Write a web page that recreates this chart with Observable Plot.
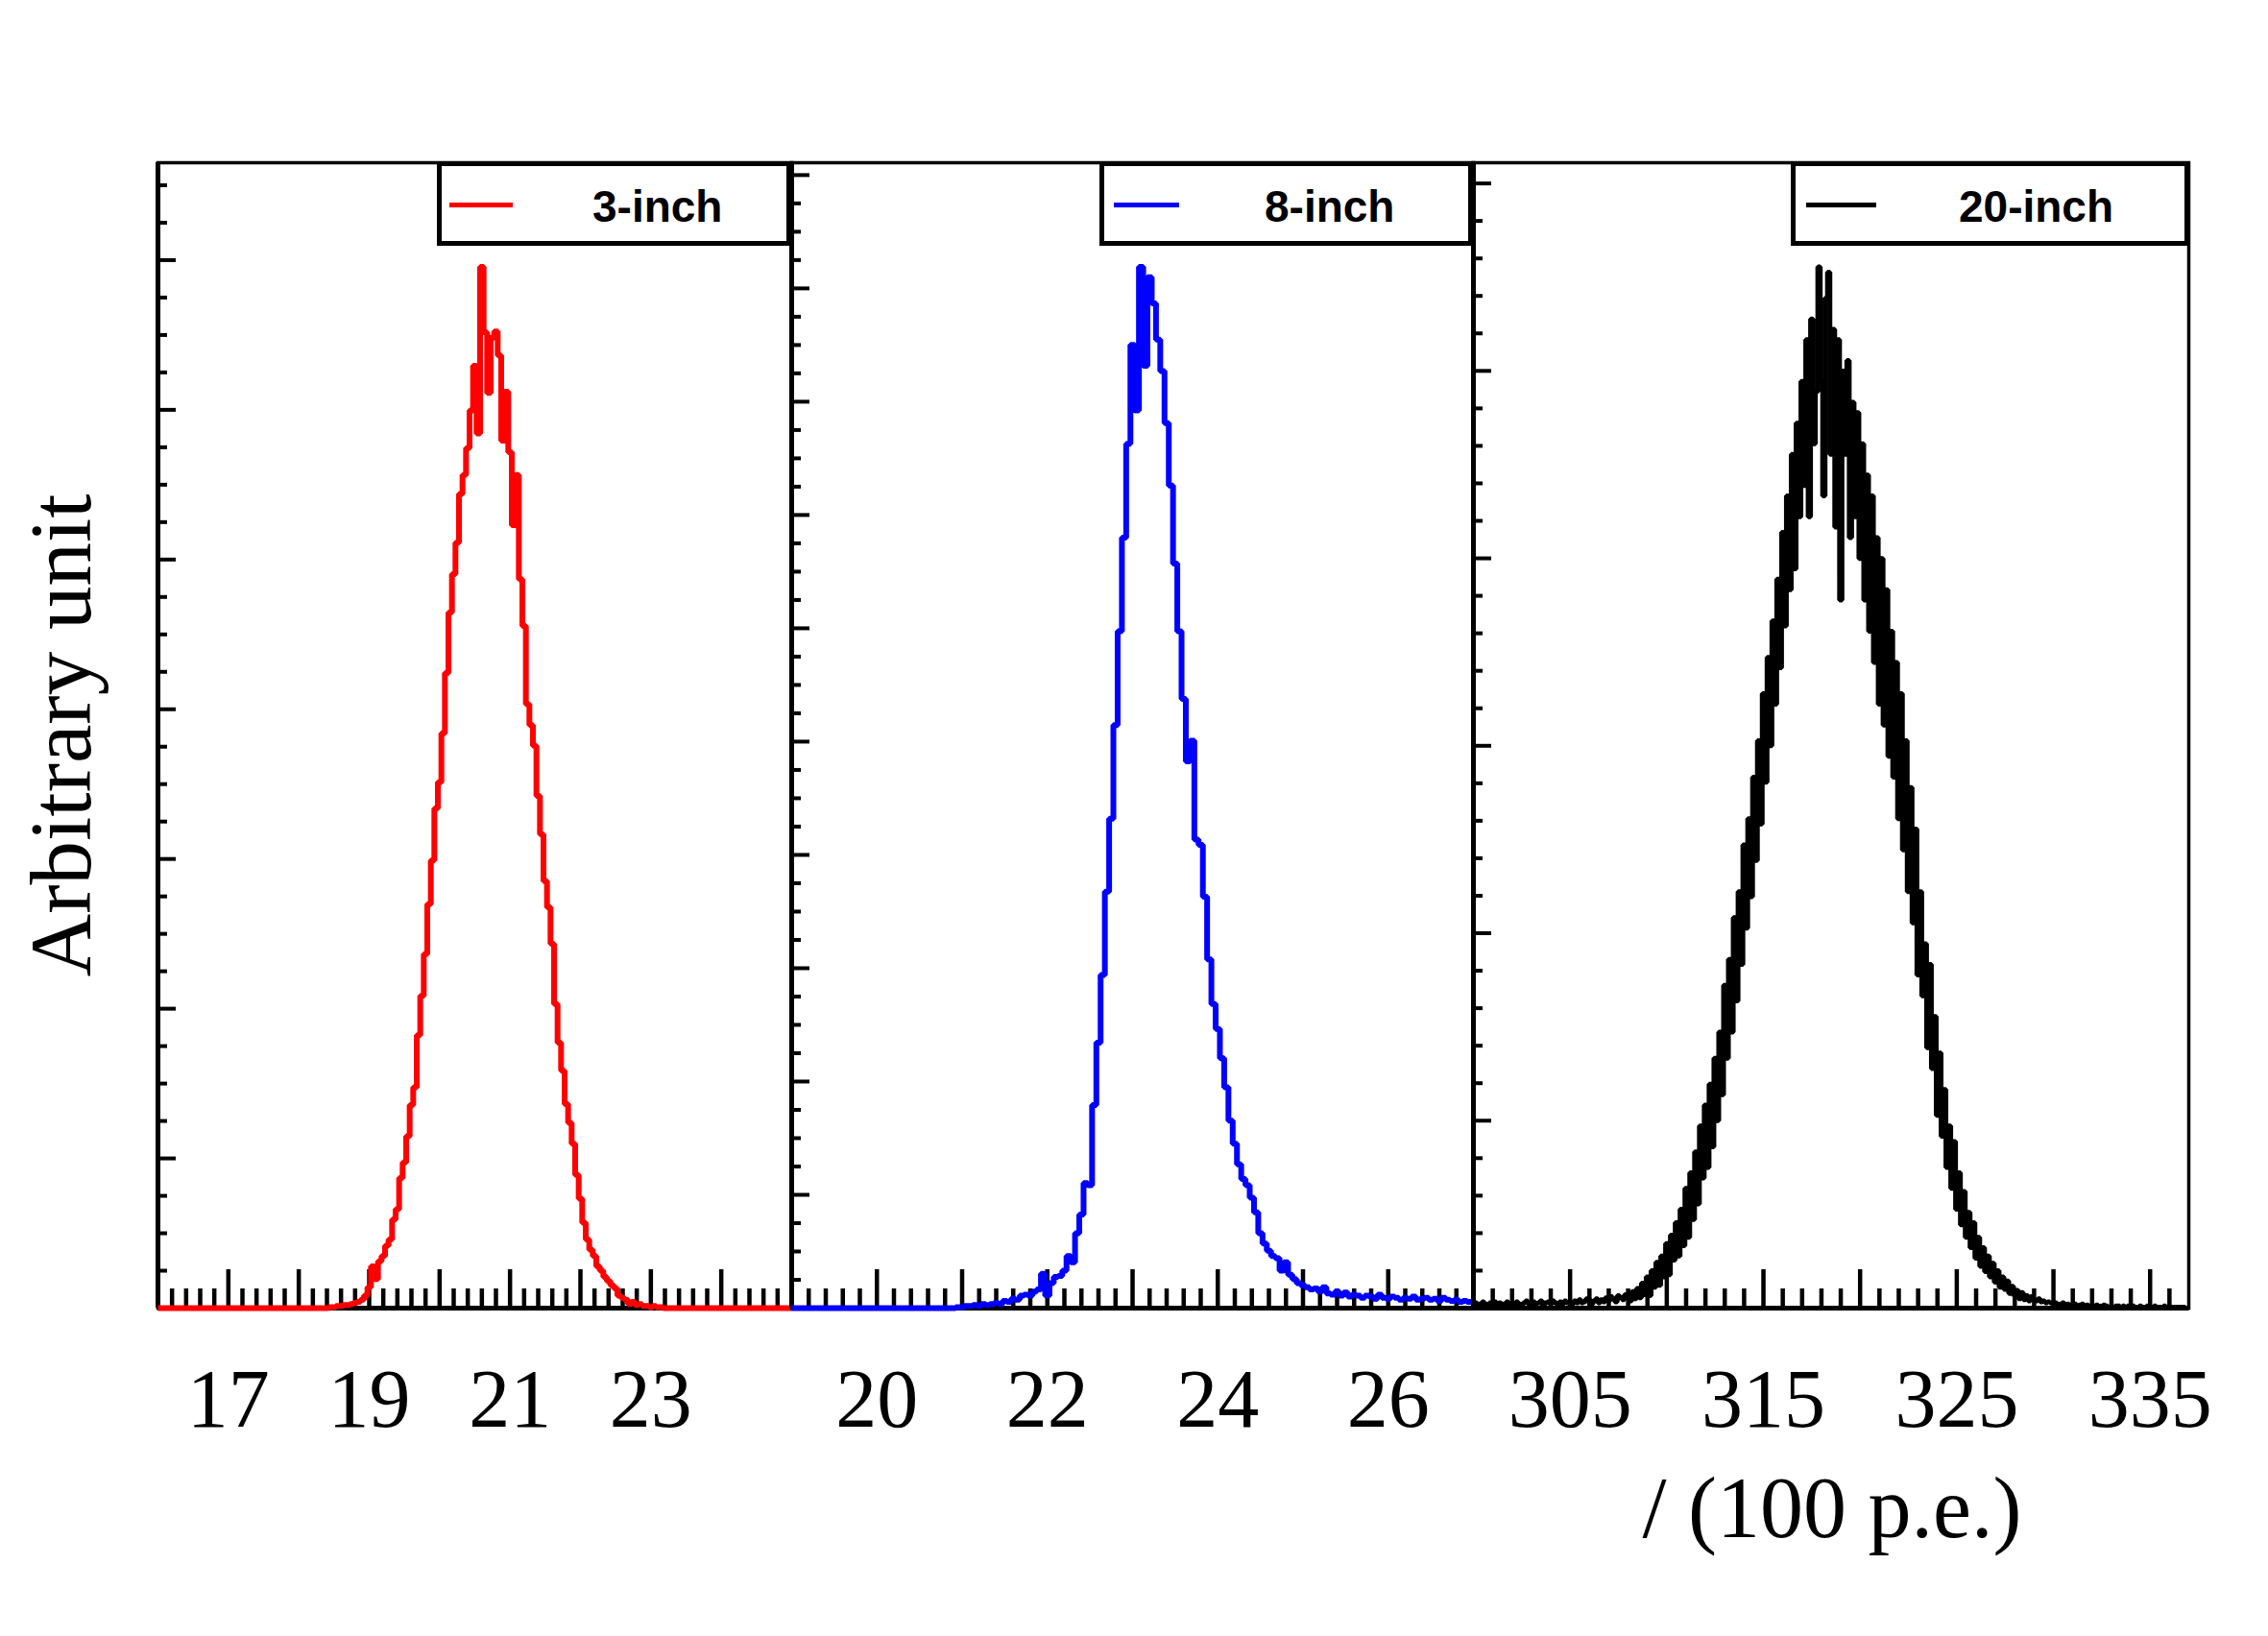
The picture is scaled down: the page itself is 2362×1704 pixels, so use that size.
<!DOCTYPE html>
<html>
<head>
<meta charset="utf-8">
<script src="https://cdn.jsdelivr.net/npm/d3@7"></script>
<script src="https://cdn.jsdelivr.net/npm/@observablehq/plot@0.6"></script>
<style>
html, body { margin: 0; padding: 0; background: #fff; }
#chart { position: relative; width: 2362px; height: 1704px; background: #fff; overflow: hidden; }
#chart svg { position: absolute; }
.lbox { position: absolute; box-sizing: border-box; border: 5px solid #000; background: #fff; }
.lsample { position: absolute; height: 5px; }
.ltext { position: absolute; font: bold 46px "Liberation Sans", Arial, sans-serif; line-height: 46px; white-space: nowrap; color: #000; }
</style>
</head>
<body>
<div id="chart"></div>
<script>
// ---------------- data ----------------
const seriesNames = ["3-inch", "8-inch", "20-inch"];
const seriesColors = ["#ff0000", "#0000ff", "#000000"];
const seriesWidths = [6, 6, 5];

const xDomain3 = [16, 25];
const xDomain8 = [19, 27];
const xDomain20 = [300, 337];

const xLabels3 = [17, 19, 21, 23];
const xLabels8 = [20, 22, 24, 26];
const xLabels20 = [305, 315, 325, 335];

const xMajor3 = [17, 18, 19, 20, 21, 22, 23, 24];
const xMajor8 = [20, 21, 22, 23, 24, 25, 26];
const xMajor20 = [305, 310, 315, 320, 325, 330, 335];
const xMinorStep = [0.2, 0.2, 1];

const xTitle = "/ (100 p.e.)";
const yTitle = "Arbitrary unit";

// histogram contents, normalised to the highest bin
const inch3Start = 18.40, inch3Width = 0.05;
const inch3Values = [
  0.000, 0.001, 0.001, 0.002, 0.002, 0.003, 0.003, 0.004, 0.005, 0.006,
  0.008, 0.012, 0.020, 0.040, 0.028, 0.045, 0.050, 0.060, 0.066, 0.085,
  0.095, 0.125, 0.140, 0.165, 0.195, 0.212, 0.262, 0.300, 0.340, 0.388,
  0.430, 0.480, 0.505, 0.552, 0.610, 0.668, 0.705, 0.735, 0.782, 0.800,
  0.826, 0.862, 0.905, 0.840, 1.000, 0.937, 0.879, 0.932, 0.938, 0.915,
  0.833, 0.880, 0.822, 0.752, 0.800, 0.700, 0.655, 0.580, 0.560, 0.540,
  0.492, 0.455, 0.410, 0.385, 0.350, 0.292, 0.255, 0.228, 0.196, 0.178,
  0.158, 0.128, 0.105, 0.082, 0.066, 0.056, 0.050, 0.040, 0.036, 0.030,
  0.026, 0.022, 0.019, 0.012, 0.010, 0.008, 0.004, 0.006, 0.003, 0.004,
  0.002, 0.002, 0.001, 0.002, 0.001, 0.001, 0.000
];

const inch8Start = 20.90, inch8Width = 0.05;
const inch8Values = [
  0.000, 0.001, 0.001, 0.002, 0.002, 0.003, 0.002, 0.004, 0.003, 0.004,
  0.005, 0.004, 0.007, 0.006, 0.009, 0.008, 0.012, 0.013, 0.012, 0.016,
  0.018, 0.033, 0.012, 0.024, 0.030, 0.031, 0.036, 0.050, 0.044, 0.072,
  0.090, 0.120, 0.118, 0.195, 0.255, 0.320, 0.400, 0.470, 0.560, 0.650,
  0.740, 0.830, 0.925, 0.862, 1.000, 0.905, 0.990, 0.965, 0.930, 0.900,
  0.850, 0.790, 0.715, 0.650, 0.585, 0.525, 0.545, 0.450, 0.445, 0.395,
  0.335, 0.292, 0.268, 0.240, 0.212, 0.180, 0.158, 0.138, 0.124, 0.118,
  0.106, 0.092, 0.072, 0.062, 0.055, 0.050, 0.048, 0.036, 0.044, 0.032,
  0.028, 0.024, 0.022, 0.020, 0.018, 0.019, 0.016, 0.020, 0.014, 0.013,
  0.016, 0.012, 0.015, 0.011, 0.013, 0.012, 0.010, 0.012, 0.011, 0.009,
  0.013, 0.010, 0.009, 0.011, 0.010, 0.008, 0.010, 0.009, 0.011, 0.008,
  0.009, 0.010, 0.008, 0.009, 0.007, 0.010, 0.008, 0.007, 0.008, 0.006,
  0.007, 0.006, 0.006
];

const inch20Start = 300.00, inch20Width = 0.125;
const inch20Values = [
  0.003, 0.005, 0.004, 0.002, 0.006, 0.004, 0.003, 0.005,  // 300
  0.004, 0.006, 0.003, 0.005, 0.004, 0.002, 0.006, 0.004,  // 301
  0.005, 0.003, 0.006, 0.004, 0.003, 0.005, 0.007, 0.004,  // 302
  0.003, 0.006, 0.004, 0.005, 0.007, 0.003, 0.005, 0.006,  // 303
  0.004, 0.007, 0.005, 0.003, 0.006, 0.004, 0.007, 0.005,  // 304
  0.006, 0.004, 0.007, 0.005, 0.008, 0.005, 0.006, 0.009,  // 305
  0.008, 0.004, 0.007, 0.009, 0.005, 0.008, 0.006, 0.010,  // 306
  0.007, 0.011, 0.009, 0.006, 0.012, 0.010, 0.008, 0.013,  // 307
  0.013, 0.007, 0.016, 0.009, 0.019, 0.010, 0.024, 0.013,  // 308
  0.030, 0.012, 0.036, 0.020, 0.044, 0.022, 0.050, 0.030,  // 309
  0.062, 0.032, 0.070, 0.046, 0.082, 0.050, 0.095, 0.060,  // 310
  0.115, 0.068, 0.130, 0.085, 0.150, 0.100, 0.175, 0.125,  // 311
  0.195, 0.135, 0.215, 0.155, 0.240, 0.180, 0.265, 0.205,  // 312
  0.310, 0.240, 0.335, 0.265, 0.375, 0.295, 0.400, 0.330,  // 313
  0.445, 0.365, 0.470, 0.395, 0.510, 0.430, 0.545, 0.465,  // 314
  0.590, 0.505, 0.625, 0.540, 0.660, 0.580, 0.700, 0.615,  // 315
  0.745, 0.655, 0.780, 0.690, 0.820, 0.710, 0.850, 0.760,  // 316
  0.890, 0.790, 0.930, 0.760, 0.950, 0.830, 0.880, 1.000,  // 317
  0.890, 0.780, 0.970, 0.995, 0.820, 0.940, 0.750, 0.930,  // 318
  0.680, 0.900, 0.820, 0.910, 0.740, 0.870, 0.760, 0.860,  // 319
  0.720, 0.830, 0.680, 0.800, 0.650, 0.780, 0.620, 0.740,  // 320
  0.580, 0.720, 0.560, 0.690, 0.530, 0.650, 0.510, 0.620,  // 321
  0.470, 0.590, 0.440, 0.545, 0.400, 0.500, 0.370, 0.460,  // 322
  0.320, 0.400, 0.300, 0.350, 0.250, 0.330, 0.230, 0.280,  // 323
  0.185, 0.245, 0.165, 0.210, 0.135, 0.175, 0.115, 0.160,  // 324
  0.095, 0.130, 0.080, 0.112, 0.068, 0.092, 0.058, 0.082,  // 325
  0.048, 0.068, 0.040, 0.058, 0.035, 0.050, 0.030, 0.043,  // 326
  0.025, 0.036, 0.020, 0.030, 0.018, 0.026, 0.014, 0.021,  // 327
  0.012, 0.017, 0.009, 0.015, 0.008, 0.012, 0.007, 0.011,  // 328
  0.008, 0.007, 0.009, 0.006, 0.007, 0.005, 0.006, 0.005,  // 329
  0.004, 0.005, 0.003, 0.004, 0.005, 0.003, 0.004, 0.003,  // 330
  0.003, 0.004, 0.002, 0.003, 0.004, 0.002, 0.003, 0.002,  // 331
  0.003, 0.002, 0.003, 0.001, 0.002, 0.003, 0.002, 0.001,  // 332
  0.002, 0.001, 0.002, 0.002, 0.001, 0.002, 0.001, 0.002,  // 333
  0.001, 0.002, 0.001, 0.001, 0.002, 0.001, 0.001, 0.002,  // 334
  0.001, 0.001, 0.002, 0.001, 0.001, 0.001, 0.002, 0.001,  // 335
  0.001, 0.001, 0.001, 0.001, 0.001, 0.001, 0.001, 0.000,  // 336
  0.000
];

// height of the highest bin in major y-tick units, and minor ticks per major
const peakInMajor = [6.955, 9.19, 5.555];
const minorPerMajor = [4, 4, 5];

// ---------------- layout ----------------
const frameTop = 169, frameBottom = 1362;
const frameH = frameBottom - frameTop;
const frames = [[164, 824], [824, 1534], [1534, 2279]];
const mTop = 20, mBottom = 330, mRight = 10;
const serif = "'Liberation Serif', 'Times New Roman', Times, serif";

function histPoints(start, width, values, domain) {
  const pts = values.map((v, i) => ({x: +(start + i * width).toFixed(4), y: v}));
  if (pts[0].x > domain[0]) pts.unshift({x: domain[0], y: 0});
  if (pts[pts.length - 1].x < domain[1]) pts.push({x: domain[1], y: 0});
  return pts;
}
function minorTicks(domain, step, majors) {
  const n = Math.round((domain[1] - domain[0]) / step);
  const out = [];
  for (let i = 1; i < n; i++) {
    const v = +(domain[0] + i * step).toFixed(4);
    if (!majors.some(m => Math.abs(m - v) < 1e-6)) out.push(v);
  }
  return out;
}
function yTicks(peak, per) {
  const step = 1 / (peak * per);
  const major = [], minor = [];
  for (let k = 1; k * step <= 1.1; k++) (k % per === 0 ? major : minor).push(k * step);
  return {major, minor};
}

const panels = [
  {domain: xDomain3, start: inch3Start, width: inch3Width, values: inch3Values, majors: xMajor3, labels: xLabels3},
  {domain: xDomain8, start: inch8Start, width: inch8Width, values: inch8Values, majors: xMajor8, labels: xLabels8},
  {domain: xDomain20, start: inch20Start, width: inch20Width, values: inch20Values, majors: xMajor20, labels: xLabels20}
];

const chart = document.getElementById("chart");

panels.forEach((p, i) => {
  const [fx0, fx1] = frames[i];
  const W = fx1 - fx0;
  const mLeft = i === 0 ? fx0 : 20;
  const data = histPoints(p.start, p.width, p.values, p.domain);
  const yt = yTicks(peakInMajor[i], minorPerMajor[i]);
  const xMin = minorTicks(p.domain, xMinorStep[i], p.majors);

  const marks = [
    Plot.frame({stroke: "#000", strokeWidth: 3.5}),
    Plot.ruleY([0], {stroke: "#000", strokeWidth: 5}),
    Plot.tickX(p.majors, {x: d => d, insetTop: frameH - 40, stroke: "#000", strokeWidth: 4.5}),
    Plot.tickX(xMin, {x: d => d, insetTop: frameH - 20, stroke: "#000", strokeWidth: 4.5}),
    Plot.tickY(yt.major, {y: d => d, insetRight: W - 19, stroke: "#000", strokeWidth: 4}),
    Plot.tickY(yt.minor, {y: d => d, insetRight: W - 10, stroke: "#000", strokeWidth: 4}),
    Plot.ruleX([p.domain[0]], {stroke: "#000", strokeWidth: 5}),
    Plot.line(data, {x: "x", y: "y", curve: "step", stroke: seriesColors[i], strokeWidth: seriesWidths[i],
      strokeLinejoin: "miter", strokeLinecap: "butt"}),
    Plot.text(p.labels, {x: d => d, text: d => String(d), frameAnchor: "bottom", dy: 123,
      lineAnchor: "bottom", textAnchor: "middle", fontSize: 86, fontFamily: serif, fill: "#000"})
  ];
  if (i === 0) {
    marks.push(Plot.text([yTitle], {text: d => d, frameAnchor: "left", dx: -71, rotate: -90,
      lineAnchor: "bottom", textAnchor: "middle", fontSize: 91, fontFamily: serif, fill: "#000"}));
  }
  if (i === 2) {
    marks.push(Plot.text([xTitle], {text: d => d, frameAnchor: "bottom-right", dx: -174, dy: 238,
      lineAnchor: "bottom", textAnchor: "end", fontSize: 90, fontFamily: serif, fill: "#000"}));
  }

  const svg = Plot.plot({
    width: mLeft + W + mRight,
    height: mTop + frameH + mBottom,
    marginLeft: mLeft, marginRight: mRight, marginTop: mTop, marginBottom: mBottom,
    x: {domain: p.domain, axis: null},
    y: {domain: [0, 1.1], axis: null},
    style: {background: "transparent", overflow: "visible"},
    marks
  });
  svg.style.left = (fx0 - mLeft) + "px";
  svg.style.top = (frameTop - mTop) + "px";
  chart.appendChild(svg);
});

// ---------------- legends ----------------
const legendBoxes = [[455, 824], [1145, 1534], [1865, 2280]];
const legendSamples = [[468, 534], [1160, 1228], [1881, 1954]];
const legendTextLeft = [617, 1317, 2040];
const legendTop = 168, legendBottom = 256;

seriesNames.forEach((name, i) => {
  const box = document.createElement("div");
  box.className = "lbox";
  box.style.left = legendBoxes[i][0] + "px";
  box.style.width = (legendBoxes[i][1] - legendBoxes[i][0]) + "px";
  box.style.top = legendTop + "px";
  box.style.height = (legendBottom - legendTop) + "px";
  chart.appendChild(box);

  const s = document.createElement("div");
  s.className = "lsample";
  s.style.left = legendSamples[i][0] + "px";
  s.style.width = (legendSamples[i][1] - legendSamples[i][0]) + "px";
  s.style.top = "211px";
  s.style.background = seriesColors[i];
  chart.appendChild(s);

  const t = document.createElement("div");
  t.className = "ltext";
  t.style.left = legendTextLeft[i] + "px";
  t.style.top = "192px";
  t.textContent = name;
  chart.appendChild(t);
});
</script>
</body>
</html>
